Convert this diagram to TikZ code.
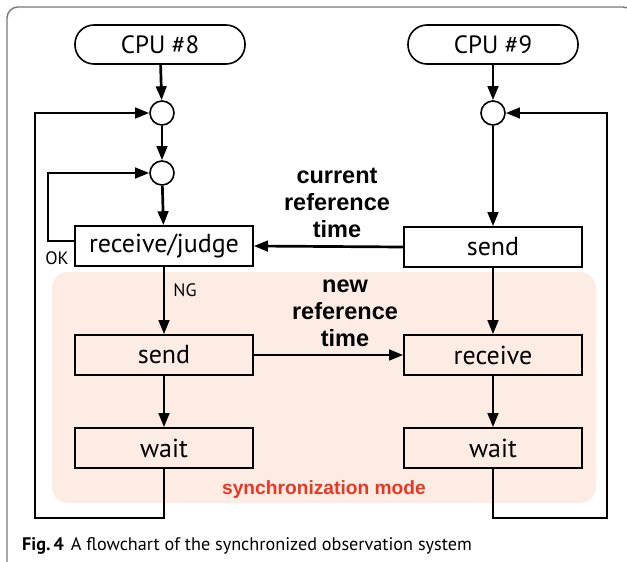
\documentclass[tikz,border=0pt]{standalone}
\usepackage{fontspec}
\setmainfont{PT Sans}
\newfontfamily\labelfont{Liberation Sans}
\usetikzlibrary{arrows.meta}

\definecolor{syncfill}{RGB}{253,236,228}
\definecolor{syncred}{RGB}{232,56,36}
\definecolor{framegray}{RGB}{120,120,120}

\begin{document}
\begin{tikzpicture}[x=1pt,y=-1pt,
  pill/.style={draw,line width=1.6pt,rounded corners=19pt,minimum width=170pt,minimum height=39pt,inner sep=0pt,font=\fontsize{25}{27}\selectfont},
  stepbox/.style={draw,line width=1.6pt,minimum width=178pt,minimum height=40pt,inner sep=0pt,font=\fontsize{26}{28}\selectfont},
  joint/.style={draw,circle,line width=1.6pt,minimum size=24pt,inner sep=0pt,fill=white},
  conn/.style={line width=2.7pt,-{Triangle[length=14pt,width=10.5pt]}},
  boldlabel/.style={align=center,font=\labelfont\bfseries\fontsize{23.5}{27}\selectfont},
  smalllabel/.style={font=\fontsize{18}{20}\selectfont,inner sep=0pt}]

% page area and outer frame
\useasboundingbox (0,0) rectangle (627,562);
\clip (0,0) rectangle (627,562);
\fill[white] (0,0) rectangle (627,562);
\draw[framegray,line width=1.4pt,rounded corners=11pt] (7,7) rectangle (634,575);

% shaded synchronization area
\fill[syncfill,rounded corners=16pt] (52,272) rectangle (596,503);
\node[font=\labelfont\bfseries\fontsize{19.2}{21}\selectfont,text=syncred] (syncmode) at (324,490) {synchronization mode};

% CPU #8 column
\node[pill] (cpu8) at (160,44.5) {CPU \#8};
\node[joint] (c1) at (162,113) {};
\node[joint] (c2) at (162,173) {};
\node[stepbox,fill=white] (rj) at (164,246) {receive/judge};
\node[stepbox] (send8) at (164,355) {send};
\node[stepbox] (wait8) at (164,448) {wait};

% CPU #9 column
\node[pill] (cpu9) at (493,44.5) {CPU \#9};
\node[joint] (c9) at (493,113) {};
\node[stepbox,fill=white] (send9) at (493,247) {send};
\node[stepbox] (recv9) at (493,355) {receive};
\node[stepbox] (wait9) at (493,448) {wait};

% loop corners
\coordinate (loopL) at (35,518);
\coordinate (okL) at (48,173);
\coordinate (loopR) at (607,518);

% CPU #8 flow
\draw[conn] (cpu8) -- (c1);
\draw[conn] (c1) -- (c2);
\draw[conn] (c2) -- (rj);
\draw[conn] (rj) -- (send8);
\draw[conn] (send8) -- (wait8);
\draw[conn] (wait8.south) |- (loopL) |- (c1.west);
\draw[conn] ([yshift=5pt]rj.west) -| (okL) -- (c2.west);

% CPU #9 flow
\draw[conn] (cpu9) -- (c9);
\draw[conn] (c9) -- (send9);
\draw[conn] (send9) -- (recv9);
\draw[conn] (recv9) -- (wait9);
\draw[conn] (wait9.south) |- (loopR) |- (c9.east);

% exchanged reference times
\draw[conn] (send9.west) -- (rj.east);
\draw[conn] (send8.east) -- (recv9.west);
\node[boldlabel] (curtime) at (337,203) {current\\reference\\time};
\node[boldlabel] (newtime) at (345,313) {new\\reference\\time};

% branch labels
\node[smalllabel] (oklabel) at (57,258) {OK};
\node[smalllabel] (nglabel) at (185,290) {NG};

% caption
\node[anchor=base west,inner sep=0pt,font=\fontsize{18.2}{20}\selectfont] (caption) at (22,550)
  {\textbf{Fig.\,4}\hspace{7pt}A flowchart of the synchronized observation system};
\end{tikzpicture}
\end{document}
